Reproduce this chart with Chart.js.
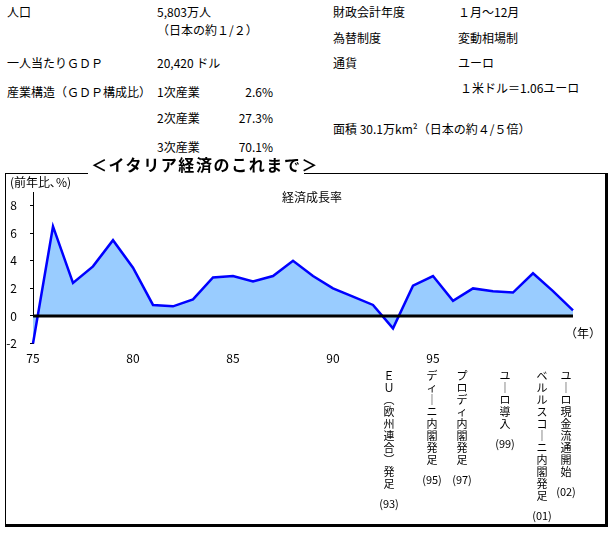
<!DOCTYPE html>
<html>
<head>
<meta charset="utf-8">
<script src="https://cdn.jsdelivr.net/npm/chart.js@4/dist/chart.umd.min.js"></script>
<style>
  body { margin: 0; width: 614px; height: 535px; background: #fff; position: relative; overflow: hidden;
         font-family: "Noto Sans CJK JP", sans-serif; font-size: 12px; color: #000; }
  .t { position: absolute; white-space: nowrap; line-height: 14px; margin-top: -7px; }
  .r { text-align: right; }
  #box { position: absolute; left: 5px; top: 173px; width: 603px; height: 354px; box-sizing: border-box;
         border-left: 1px solid #000; border-top: 1px solid #000; border-right: 3px solid #000; border-bottom: 3px solid #000; }
  #chart { position: absolute; left: 0; top: 0; z-index: 1; }
  #head { position: absolute; left: 88px; top: 154px; width: 216px; height: 21px; background: #fff; z-index: 2;
          font-size: 16px; font-weight: bold; line-height: 21px; white-space: nowrap; letter-spacing: 1.6px;
          padding-left: 3px; box-sizing: border-box; }
</style>
</head>
<body>
<div class="t" style="left:7px;top:12px">人口</div>
<div class="t" style="left:157px;top:12px">5,803万人</div>
<div class="t" style="left:157px;top:30px">（日本の約１/２）</div>
<div class="t" style="left:7px;top:63px">一人当たりＧＤＰ</div>
<div class="t" style="left:157px;top:63px">20,420 ドル</div>
<div class="t" style="left:7px;top:92px">産業構造（ＧＤＰ構成比）</div>
<div class="t" style="left:157px;top:92px">1次産業</div>
<div class="t r" style="left:223px;width:50px;top:92px">2.6%</div>
<div class="t" style="left:157px;top:118px">2次産業</div>
<div class="t r" style="left:223px;width:50px;top:118px">27.3%</div>
<div class="t" style="left:157px;top:147px">3次産業</div>
<div class="t r" style="left:223px;width:50px;top:147px">70.1%</div>

<div class="t" style="left:333px;top:12px">財政会計年度</div>
<div class="t" style="left:458px;top:12px">１月～12月</div>
<div class="t" style="left:333px;top:38px">為替制度</div>
<div class="t" style="left:458px;top:38px">変動相場制</div>
<div class="t" style="left:333px;top:63px">通貨</div>
<div class="t" style="left:458px;top:63px">ユーロ</div>
<div class="t" style="left:460px;top:88px">１米ドル＝1.06ユーロ</div>
<div class="t" style="left:333px;top:129px">面積 30.1万km²（日本の約４/５倍）</div>

<div id="box"></div>
<div id="head">＜イタリア経済のこれまで＞</div>
<canvas id="chart" width="614" height="535"></canvas>

<script>
// 経済成長率（前年比、%）
const years = [1975, 1976, 1977, 1978, 1979, 1980, 1981, 1982, 1983, 1984, 1985, 1986, 1987, 1988,
               1989, 1990, 1991, 1992, 1993, 1994, 1995, 1996, 1997, 1998, 1999, 2000, 2001, 2002];
const growth = [-2.0, 6.5, 2.4, 3.6, 5.5, 3.5, 0.8, 0.7, 1.2, 2.8, 2.9, 2.5, 2.9, 4.0,
                2.9, 2.0, 1.4, 0.8, -0.9, 2.2, 2.9, 1.1, 2.0, 1.8, 1.7, 3.1, 1.8, 0.4];

// 出来事
const eventYears = [1993, 1995, 1997, 1999, 2001, 2002];
const eventTexts = ['ＥＵ（欧州連合）発足', 'ディーニ内閣発足', 'プロディ内閣発足',
                    'ユーロ導入', 'ベルルスコーニ内閣発足', 'ユーロ現金流通開始'];
const eventTags = ['(93)', '(95)', '(97)', '(99)', '(01)', '(02)'];
const eventNudge = [-4, -1, -11, -8, -11, -7];   // 横位置の微調整(px)

const vertChars = { 'ー': '｜', '（': '︵', '）': '︶' };
const font = '"Noto Sans CJK JP", sans-serif';

const notesPlugin = {
    id: 'notes',
    afterDatasetsDraw(chart) {
        const { ctx, chartArea, scales } = chart;
        const x = scales.x, y = scales.y;
        ctx.save();

        // 0 line
        const y0 = y.getPixelForValue(0);
        ctx.strokeStyle = '#000';
        ctx.lineWidth = 3;
        ctx.beginPath();
        ctx.moveTo(chartArea.left, y0);
        ctx.lineTo(chartArea.right, y0);
        ctx.stroke();

        ctx.fillStyle = '#000';
        ctx.textBaseline = 'middle';
        ctx.font = '12px ' + font;
        ctx.textAlign = 'left';
        ctx.fillText('(前年比､%)', 10, 182);
        ctx.fillText('（年）', 565, 333);
        ctx.textAlign = 'center';
        ctx.fillText('経済成長率', 312, 197);

        // vertical event labels
        ctx.font = '11px ' + font;
        eventYears.forEach((yr, i) => {
            const px = x.getPixelForValue(yr) + eventNudge[i];
            const chars = [...eventTexts[i]];
            chars.forEach((c, k) => {
                ctx.fillText(vertChars[c] || c, px, 376 + k * 12);
            });
            ctx.fillText(eventTags[i], px, 376 + chars.length * 12 + 8);
        });
        ctx.restore();
    }
};

new Chart(document.getElementById('chart').getContext('2d'), {
    type: 'line',
    data: {
        datasets: [{
            data: years.map((yr, i) => ({ x: yr, y: growth[i] })),
            borderColor: '#0000ff',
            borderWidth: 2.5,
            backgroundColor: '#99ccff',
            fill: 'origin',
            tension: 0,
            pointRadius: 0,
            clip: false
        }]
    },
    options: {
        responsive: false,
        animation: false,
        events: [],
        layout: { padding: { top: 192, left: 0, right: 41, bottom: 0 } },
        plugins: { legend: { display: false }, tooltip: { enabled: false } },
        scales: {
            x: {
                type: 'linear',
                min: 1975,
                max: 2002,
                afterBuildTicks: s => { s.ticks = s.ticks.filter(t => t.value % 5 === 0); },
                afterFit: s => { s.height = 191.5; },
                grid: { display: false, drawTicks: false },
                border: { display: false },
                ticks: {
                    stepSize: 5,
                    padding: 8,
                    color: '#000',
                    font: { family: font, size: 12 },
                    maxRotation: 0,
                    callback: v => String(v).slice(2)
                }
            },
            y: {
                min: -2,
                max: 9,
                afterBuildTicks: s => { s.ticks = s.ticks.filter(t => t.value % 2 === 0); },
                afterFit: s => { s.width = 33; },
                grid: { drawOnChartArea: false, drawTicks: true, tickLength: 3, tickColor: '#000', color: '#000' },
                border: { display: true, color: '#000', width: 1 },
                ticks: {
                    stepSize: 2,
                    padding: 13,
                    color: '#000',
                    font: { family: font, size: 12 }
                }
            }
        }
    },
    plugins: [notesPlugin]
});
</script>
</body>
</html>
